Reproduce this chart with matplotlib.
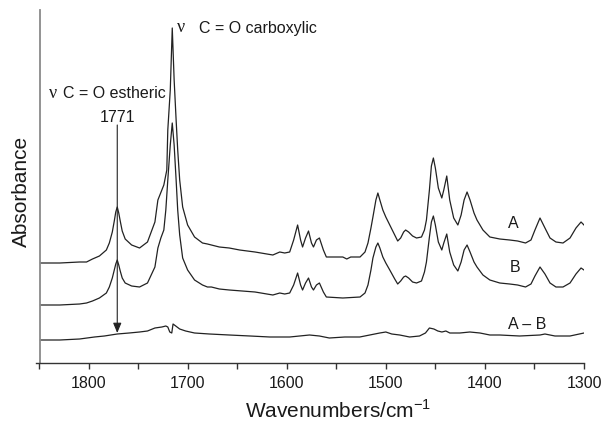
import matplotlib
matplotlib.use("Agg")
import matplotlib.pyplot as plt
from matplotlib.ticker import FixedLocator

plt.rcParams['font.family'] = ['Liberation Sans', 'DejaVu Sans']
plt.rcParams['mathtext.fontset'] = 'custom'
plt.rcParams['mathtext.rm'] = 'Liberation Sans'

# Spectrum A (wavenumber, absorbance in arbitrary units, offset for display)
wn_a = [1848.5, 1829, 1809, 1802, 1796, 1789, 1782, 1779, 1776, 1774, 1772.5,
        1771, 1769.5, 1768, 1766, 1763, 1756.5, 1748.5, 1740.5, 1733, 1730,
        1726, 1724, 1721, 1720, 1717.5, 1715.5, 1713.6, 1711.6, 1710, 1708,
        1705, 1700, 1693, 1685, 1680, 1676, 1668, 1658, 1647.5, 1632, 1614,
        1607, 1602, 1597, 1593, 1589, 1586, 1584, 1581, 1578, 1575, 1573, 1570,
        1567, 1563, 1560, 1551.5, 1543.4, 1539.4, 1535.4, 1528.3, 1526, 1521,
        1518, 1515, 1513, 1510, 1508, 1506, 1503, 1500, 1496, 1491, 1488, 1485,
        1482, 1480, 1477, 1473, 1469, 1464, 1461, 1459, 1456, 1454, 1452, 1450,
        1447, 1443.5, 1441.5, 1438.5, 1435.5, 1431.5, 1427.3, 1424, 1421, 1418,
        1415, 1411, 1408, 1402, 1395, 1385, 1375, 1367, 1359, 1353.5, 1349.5,
        1344.4, 1339.4, 1334.3, 1328.3, 1321.2, 1314.1, 1308.1, 1303, 1300]
abs_a = [100, 100, 101, 101, 104, 107, 113, 120, 131, 142, 151,
         156, 150, 142, 132, 124, 118, 115, 121, 141, 163,
         173, 178, 193, 233, 273, 335, 283, 243, 213, 183,
         156, 138, 126, 120, 119, 118, 116, 115, 113, 111, 108,
         111, 110, 111, 123, 138, 123, 116, 125, 132, 120, 116, 123,
         125, 113, 106, 106, 106, 104, 106, 106, 106, 111,
         120, 135, 146, 163, 170, 163, 153, 146, 138, 128, 122, 125,
         131, 133, 131, 127, 125, 126, 133, 143, 173, 197, 205, 195,
         175, 165, 173, 187, 163, 145, 138, 148, 163, 171,
         163, 150, 143, 133, 126, 124, 123, 122, 120, 123, 133,
         145, 135, 125, 121, 120, 125, 135, 141, 138]

# Spectrum B
wn_b = [1848.5, 1829, 1809, 1802, 1796, 1789, 1782, 1779, 1776, 1774, 1772.5,
        1771, 1769.5, 1768, 1766, 1763, 1756.5, 1748.5, 1740.5, 1733, 1730,
        1727, 1724, 1722, 1720, 1717.5, 1715.5, 1713.6, 1711.6, 1710, 1708,
        1705, 1700, 1693, 1685, 1680, 1676, 1668, 1658, 1632, 1614, 1607, 1602,
        1597, 1593, 1589, 1586, 1584, 1581, 1578, 1575, 1573, 1570, 1567, 1563,
        1560, 1543.4, 1526, 1521, 1518, 1515, 1513, 1510, 1508, 1506, 1503,
        1500, 1496, 1491, 1488, 1485, 1482, 1480, 1477, 1473, 1469, 1464, 1461,
        1459, 1456, 1454, 1452, 1450, 1447, 1443.5, 1441.5, 1438.5, 1435.5,
        1431.5, 1427.3, 1424, 1421, 1418, 1415, 1411, 1408, 1402, 1395, 1385,
        1375, 1367, 1359, 1353.5, 1349.5, 1344.4, 1339.4, 1334.3, 1328.3,
        1321.2, 1314.1, 1308.1, 1303, 1300]
abs_b = [58, 58, 59, 60, 62, 65, 70, 76, 85, 93, 99,
         103, 98, 92, 85, 80, 77, 76, 80, 96, 115,
         125, 133, 153, 183, 218, 240, 218, 183, 153, 128,
         105, 93, 83, 78, 76, 76, 74, 73, 71, 68, 70, 69,
         70, 78, 90, 78, 73, 80, 85, 76, 73, 78, 80, 71,
         66, 65, 66, 70, 78, 93, 105, 116, 120, 115, 106,
         100, 93, 84, 79, 82, 86, 87, 85, 81, 80, 82, 91,
         101, 126, 141, 147, 138, 121, 113, 120, 129, 111,
         98, 92, 101, 113, 118, 111, 101, 96, 88, 83, 80,
         79, 78, 76, 79, 87, 96, 89, 80, 76,
         76, 80, 89, 95, 93]

# Difference spectrum A - B
wn_d = [1848.5, 1829, 1809, 1794, 1784, 1771, 1759, 1748.5, 1740.5, 1733, 1726,
        1722, 1720, 1718, 1716, 1714.7, 1712, 1708, 1702, 1693, 1678, 1658,
        1637, 1617, 1597, 1587, 1577, 1567, 1557, 1541.4, 1526.3, 1516.2,
        1506.1, 1500, 1494, 1486, 1476, 1466, 1460, 1456, 1451.5, 1447.5,
        1443.4, 1439.4, 1435.4, 1425.3, 1415.2, 1405, 1395, 1385, 1365, 1344.4,
        1339.4, 1329.3, 1314.1, 1300]
abs_d = [23, 23, 24, 26, 27, 29, 30, 31, 32, 35, 36,
         37, 36, 31, 30, 39, 37, 34, 32, 30, 29, 28,
         27, 26, 26, 27, 28, 27, 25, 26, 26, 28,
         30, 31, 29, 28, 26, 27, 30, 35, 34, 32,
         31, 32, 30, 30, 31, 30, 28, 28, 27, 28,
         29, 27, 27, 30]

major_ticks = [1800, 1700, 1600, 1500, 1400, 1300]
minor_ticks = [1850, 1750, 1650, 1550, 1450, 1350]

fig = plt.figure(figsize=(6.01, 4.25), dpi=100)
ax = fig.add_axes([36 / 601, 62 / 425, 548 / 601, 353 / 425])

line_kw = dict(color='#222222', lw=0.9)
ax.plot(wn_a, abs_a, **line_kw)
ax.plot(wn_b, abs_b, **line_kw)
ax.plot(wn_d, abs_d, **line_kw)

ax.set_xlim(1853, 1300)
ax.set_ylim(0, 353)

for side in ('top', 'right'):
    ax.spines[side].set_visible(False)
ax.spines['left'].set_position(('data', 1848.5))
ax.spines['left'].set_color('#8a8a8a')
ax.spines['left'].set_linewidth(1.3)
ax.spines['bottom'].set_color('#333333')
ax.spines['bottom'].set_linewidth(1.0)

ax.yaxis.set_visible(False)
ax.xaxis.set_major_locator(FixedLocator(major_ticks))
ax.xaxis.set_minor_locator(FixedLocator(minor_ticks))
ax.tick_params(axis='x', which='both', direction='out', length=4, width=1.0,
               color='#333333', labelsize=11.5, labelcolor='#1a1a1a', pad=5)

# Trace labels
txt_kw = dict(fontsize=11.5, color='#1a1a1a', ha='center', va='center')
ax.text(1371.5, 139, 'A', **txt_kw)
ax.text(1370, 96, 'B', **txt_kw)
ax.text(1357, 38.5, 'A – B', **txt_kw)

# Band assignments
ax.text(1706.5, 335, 'ν', fontsize=13, family=['Liberation Serif'], color='#1a1a1a',
        ha='center', va='center')
ax.text(1689, 335, 'C = O carboxylic', fontsize=11.5, color='#1a1a1a',
        ha='left', va='center')
ax.text(1836, 269, 'ν', fontsize=13, family=['Liberation Serif'], color='#1a1a1a',
        ha='center', va='center')
ax.text(1826, 269, 'C = O estheric', fontsize=11.5, color='#1a1a1a',
        ha='left', va='center')
ax.text(1771, 246, '1771', fontsize=11.5, color='#1a1a1a', ha='center', va='center')

ax.annotate('', xy=(1771, 30), xytext=(1771, 238),
            arrowprops=dict(arrowstyle='-|>,head_length=0.6,head_width=0.25',
                            lw=0.8, color='#222222', mutation_scale=10,
                            shrinkA=0, shrinkB=0))

fig.text(338 / 601, 1 - 410 / 425, 'Wavenumbers/cm$^{-1}$', fontsize=15,
         color='#1a1a1a', ha='center', va='center')
fig.text(21 / 601, 1 - 191 / 425, 'Absorbance', fontsize=15, rotation=90,
         color='#1a1a1a', ha='center', va='center')

fig.savefig('out.png', dpi=100)
